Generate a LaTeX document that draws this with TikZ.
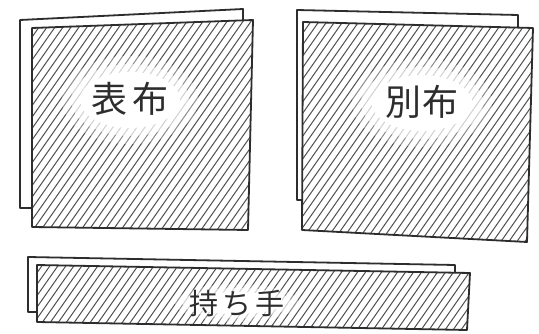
\documentclass[tikz,border=0pt]{standalone}
\usepackage{fontspec}
\newfontfamily\jp{Noto Sans CJK JP}
\definecolor{ink}{RGB}{45,45,45}
\definecolor{hatchgray}{RGB}{80,80,80}
\begin{document}
\begin{tikzpicture}[x=1pt,y=-1pt,
  backsheet/.style={draw=ink, line width=1.8pt, line join=round, fill=white},
  frontsheet/.style={draw=ink, line width=1.8pt, line join=round},
  hatchline/.style={draw=hatchgray, line width=1pt},
  clothtext/.style={text=ink, inner sep=0pt, font=\jp\fontsize{36}{36}\selectfont},
  handletext/.style={text=ink, inner sep=0pt, font=\jp\fontsize{29}{29}\selectfont}]
\useasboundingbox (0,0) rectangle (539,334);
\fill[white] (0,0) rectangle (539,334);

% ---------- left panel: 表布 ----------
\draw[backsheet] (20,20) -- (243,9) -- (243,200) -- (32,208) -- (20,208) -- cycle;
\fill[white] (32,28) -- (253,20) -- (248,230) -- (32,227) -- cycle;
\begin{scope}
  \clip (32,28) -- (253,20) -- (248,230) -- (32,227) -- cycle;
  \foreach \i in {-300,-292,...,560} \draw[hatchline] (\i,340) -- ++(245,-350);
  \fill[white,opacity=0.35] (130,100) ellipse [x radius=68, y radius=44];
  \fill[white,opacity=0.6] (130,100) ellipse [x radius=59, y radius=36];
  \fill[white] (130,100) ellipse [x radius=50, y radius=28];
\end{scope}
\draw[frontsheet] (32,28) -- (253,20) -- (248,230) -- (32,227) -- cycle;
\node[clothtext] (omote) at (130,99) {表\hspace{6pt}布};

% ---------- right panel: 別布 ----------
\draw[backsheet] (297,10) -- (518,15) -- (518,200) -- (303,200) -- (297,200) -- cycle;
\fill[white] (303,22) -- (533,28) -- (527,242) -- (302,230) -- cycle;
\begin{scope}
  \clip (303,22) -- (533,28) -- (527,242) -- (302,230) -- cycle;
  \foreach \i in {0,8,...,860} \draw[hatchline] (\i,340) -- ++(245,-350);
  \fill[white,opacity=0.35] (422,103) ellipse [x radius=70, y radius=44];
  \fill[white,opacity=0.6] (422,103) ellipse [x radius=61, y radius=36];
  \fill[white] (422,103) ellipse [x radius=50, y radius=28];
\end{scope}
\draw[frontsheet] (303,22) -- (533,28) -- (527,242) -- (302,230) -- cycle;
\node[clothtext] (betsu) at (422,102) {別\hspace{2pt}布};

% ---------- bottom strip: 持ち手 ----------
\draw[backsheet] (28,257) -- (455,265) -- (455,312) -- (37,312) -- (28,312) -- cycle;
\fill[white] (37,265) -- (470,273) -- (467,330) -- (37,322) -- cycle;
\begin{scope}
  \clip (37,265) -- (470,273) -- (467,330) -- (37,322) -- cycle;
  \foreach \i in {-250,-242,...,480} \draw[hatchline] (\i,340) -- ++(245,-350);
  \fill[white,opacity=0.35] (237,303) ellipse [x radius=62, y radius=19];
  \fill[white,opacity=0.6] (237,303) ellipse [x radius=55, y radius=15];
  \fill[white] (237,303) ellipse [x radius=47, y radius=11];
\end{scope}
\draw[frontsheet] (37,265) -- (470,273) -- (467,330) -- (37,322) -- cycle;
\node[handletext] (mochite) at (237,303) {持\hspace{4pt}ち\hspace{4pt}手};
\end{tikzpicture}
\end{document}
